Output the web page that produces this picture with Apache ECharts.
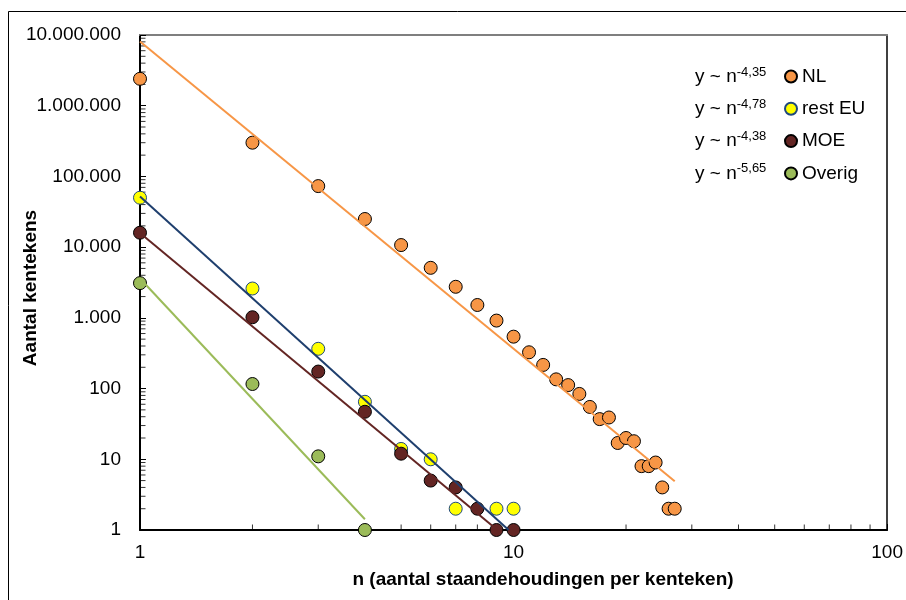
<!DOCTYPE html>
<html>
<head>
<meta charset="utf-8">
<script src="https://cdn.jsdelivr.net/npm/echarts@6/dist/echarts.min.js"></script>
<style>
html,body{margin:0;padding:0;background:#fff;}
#chart{width:906px;height:600px;}
</style>
</head>
<body>
<div id="chart"></div>
<script>
// ---- data ----
var seriesNames = ['NL', 'rest EU', 'MOE', 'Overig'];
var exponents = ['-4,35', '-4,78', '-4,38', '-5,65'];

var nlN = [1,2,3,4,5,6,7,8,9,10,11,12,13,14,15,16,17,18,19,20,21,22,23,24,25,26,27];
var nlY = [2400000,300000,73000,25000,10700,5100,2750,1520,915,542,326,216,135,112,84,55,37,39,17,20,18,8,8,9,4,2,2];

var euN = [1,2,3,4,5,6,7,9,10];
var euY = [50000,2600,365,65,14,10,2,2,2];

var moeN = [1,2,3,4,5,6,7,8,9,10];
var moeY = [16000,1020,174,47,12,5,4,2,1,1];

var ovN = [1,2,3,4];
var ovY = [3100,116,11,1];

// fitted power-law lines: endpoints [n, y]
var nlFit = [[1, 8100000], [27, 4.9]];
var euFit = [[1, 52000], [9.7, 1]];
var moeFit = [[1, 15800], [9.05, 1]];
var ovFit = [[1, 3600], [4, 1.42]];

// minor tick values
var xMinor = [2,3,4,5,6,7,8,9,20,30,40,50,60,70,80,90];
var minorMantissa = [2,3,4,5,6,7,8,9];
var yDecades = [1,10,100,1000,10000,100000,1000000];

var xTitle = 'n (aantal staandehoudingen per kenteken)';
var yTitle = 'Aantal kentekens';

// ---- build ----
function pairs(xs, ys){ return xs.map(function(x,i){ return [x, ys[i]]; }); }
var yMinor = [];
yDecades.forEach(function(d){ minorMantissa.forEach(function(m){ yMinor.push(m*d); }); });

var FONT = '"Liberation Sans", Arial, sans-serif';
var colors = {
  NL: {fill:'#F79646', border:'#000000', line:'#F79646'},
  EU: {fill:'#FFFF00', border:'#1F497D', line:'#1F3F6E'},
  MOE:{fill:'#632523', border:'#000000', line:'#632523'},
  OV: {fill:'#9BBB59', border:'#000000', line:'#9BBB59'}
};

function fmt(v){
  var r = Math.round(v);
  return String(r).replace(/\B(?=(\d{3})+(?!\d))/g, '.');
}

function scatter(name, data, c){
  return {
    name: name, type: 'scatter', data: data, symbol: 'circle', symbolSize: 13,
    itemStyle: {color: c.fill, borderColor: c.border, borderWidth: 1, opacity: 1},
    xAxisIndex: 0, yAxisIndex: 0, z: 3, silent: true
  };
}
function fitLine(data, c){
  return {
    type: 'line', data: data, symbol: 'none', showSymbol: false,
    lineStyle: {color: c.line, width: 2}, xAxisIndex: 0, yAxisIndex: 0, z: 4, silent: true
  };
}

var eqGraphics = exponents.map(function(e, i){
  return {
    type: 'text', left: 695, top: 65.5 + i*32.3, z: 10,
    style: {
      text: 'y ~ n{s|' + e + '}',
      font: '19px ' + FONT, fill: '#000', lineHeight: 22,
      rich: { s: {fontSize: 13, fontFamily: FONT, fill: '#000', verticalAlign: 'top', lineHeight: 14} }
    }
  };
});

var chart = echarts.init(document.getElementById('chart'), null, {renderer: 'canvas'});
chart.setOption({
  backgroundColor: '#ffffff',
  animation: false,
  textStyle: {fontFamily: FONT},
  grid: {left: 140, right: 16, top: 35, bottom: 70, containLabel: false},
  legend: {
    data: seriesNames, orient: 'vertical', left: 779, top: 61.5,
    icon: 'circle', itemWidth: 12, itemHeight: 12, itemGap: 12.3,
    textStyle: {fontSize: 19, lineHeight: 20, color: '#000', fontFamily: FONT},
    selectedMode: false
  },
  xAxis: [{
    type: 'log', logBase: 10, min: 1, max: 100, position: 'bottom',
    axisLine: {show: true, lineStyle: {color: '#000', width: 2}},
    axisTick: {show: true, inside: true, length: 6, lineStyle: {color: '#000', width: 1}},
    axisLabel: {fontSize: 19, color: '#000', margin: 13, fontFamily: FONT},
    splitLine: {show: false}
  }, {
    type: 'log', logBase: 10, min: 1, max: 100, position: 'top',
    axisLine: {show: true, lineStyle: {color: '#7f7f7f', width: 2}},
    axisTick: {show: false}, axisLabel: {show: false}, splitLine: {show: false}
  }],
  yAxis: [{
    type: 'log', logBase: 10, min: 1, max: 10000000, interval: 1, position: 'left',
    axisLine: {show: true, lineStyle: {color: '#000', width: 2}},
    axisTick: {show: true, inside: true, length: 6, lineStyle: {color: '#000', width: 1}},
    axisLabel: {fontSize: 19, color: '#000', margin: 19, formatter: fmt, fontFamily: FONT},
    splitLine: {show: false}
  }, {
    type: 'log', logBase: 10, min: 1, max: 10000000, position: 'right',
    axisLine: {show: true, lineStyle: {color: '#000', width: 1.5}},
    axisTick: {show: false}, axisLabel: {show: false}, splitLine: {show: false}
  }],
  graphic: [
    {type: 'line', shape: {x1: 8.5, y1: 11.5, x2: 906, y2: 11.5}, style: {stroke: '#000', lineWidth: 1}, z: 0},
    {type: 'line', shape: {x1: 8.5, y1: 11.5, x2: 8.5, y2: 600}, style: {stroke: '#000', lineWidth: 1}, z: 0},
    {type: 'text', x: 543, y: 580, z: 10,
      style: {text: xTitle, font: 'bold 19px ' + FONT, fill: '#000', align: 'center', verticalAlign: 'middle'}},
    {type: 'text', x: 31, y: 288, rotation: Math.PI/2, z: 10,
      style: {text: yTitle, font: 'bold 19px ' + FONT, fill: '#000', align: 'center', verticalAlign: 'middle'}}
  ].concat(eqGraphics),
  series: [
    {
      type: 'scatter', xAxisIndex: 0, yAxisIndex: 0, silent: true, z: 2, clip: false,
      data: xMinor.map(function(v){ return [v, 1]; }),
      symbol: 'rect', symbolSize: [1, 5], symbolOffset: [0, -3],
      itemStyle: {color: '#000'}
    },
    {
      type: 'scatter', xAxisIndex: 0, yAxisIndex: 0, silent: true, z: 2, clip: false,
      data: yMinor.map(function(v){ return [1, v]; }),
      symbol: 'rect', symbolSize: [5, 1], symbolOffset: [3, 0],
      itemStyle: {color: '#000'}
    },
    scatter('NL', pairs(nlN, nlY), colors.NL),
    scatter('rest EU', pairs(euN, euY), colors.EU),
    scatter('MOE', pairs(moeN, moeY), colors.MOE),
    scatter('Overig', pairs(ovN, ovY), colors.OV),
    fitLine(nlFit, colors.NL),
    fitLine(euFit, colors.EU),
    fitLine(moeFit, colors.MOE),
    fitLine(ovFit, colors.OV)
  ]
});
</script>
</body>
</html>
